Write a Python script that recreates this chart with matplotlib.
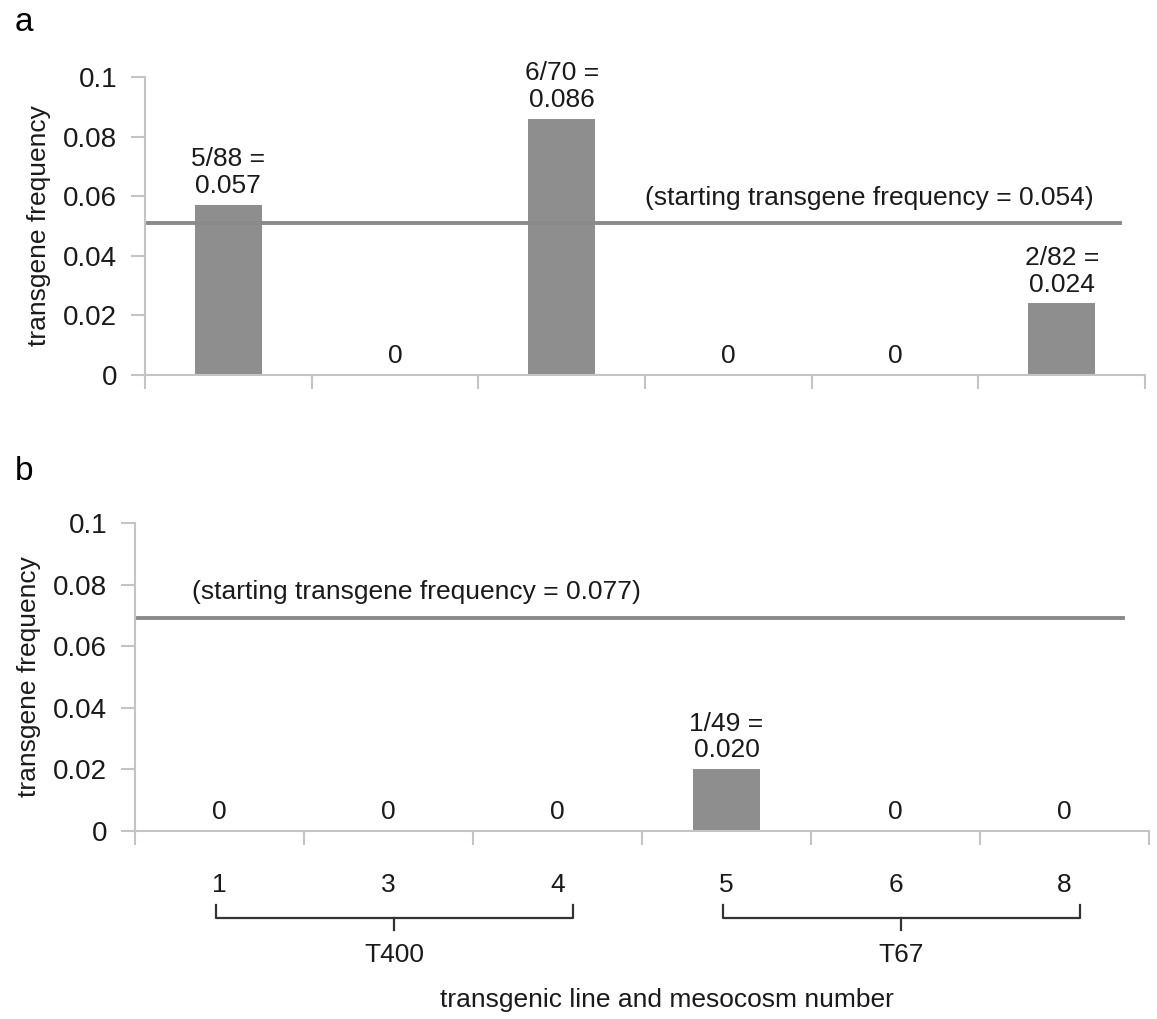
import matplotlib
matplotlib.use("Agg")
import matplotlib.pyplot as plt
import matplotlib.transforms as mtransforms

plt.rcParams['font.family'] = ['Liberation Sans', 'DejaVu Sans']

# --- dados ---
mesocosms = ["1", "3", "4", "5", "6", "8"]
lines = ["T400", "T400", "T400", "T67", "T67", "T67"]

freq_a = [0.057, 0, 0.086, 0, 0, 0.024]
labels_a = ["5/88 =\n0.057", "0", "6/70 =\n0.086", "0", "0", "2/82 =\n0.024"]
start_a = 0.051
start_text_a = "(starting transgene frequency = 0.054)"

freq_b = [0, 0, 0, 0.020, 0, 0]
labels_b = ["0", "0", "0", "1/49 =\n0.020", "0", "0"]
start_b = 0.069
start_text_b = "(starting transgene frequency = 0.077)"

yticks = [0, 0.02, 0.04, 0.06, 0.08, 0.1]
ytick_labels = ["0", "0.02", "0.04", "0.06", "0.08", "0.1"]

BAR = '#8e8e8e'
AXC = '#c4c4c4'
TXT = '#1a1a1a'
FS = 19

fig = plt.figure(figsize=(11.57, 10.19), dpi=100)


def painel(ax, freq, labels, start, start_text, text_x, text_y, line_end):
    x = list(range(len(freq)))
    ax.bar(x, freq, width=0.4, color=BAR, zorder=2)
    ax.axhline(start, xmin=0.003, xmax=line_end, color='#8a8a8a', lw=2.8, zorder=3)
    ax.text(text_x, text_y, start_text, fontsize=FS, color=TXT, ha='left', va='center')
    for xi, v, lab in zip(x, freq, labels):
        ax.annotate(lab, (xi, v), xytext=(0, 5), textcoords='offset points',
                    ha='center', va='bottom', fontsize=FS, color=TXT, linespacing=1.15)
    ax.set_xlim(-0.5, len(freq) - 0.5)
    ax.set_ylim(0, 0.1)
    ax.set_yticks(yticks)
    ax.set_yticklabels(ytick_labels, fontsize=FS + 1, color=TXT)
    ax.set_ylabel("transgene frequency", fontsize=FS, color=TXT, labelpad=9)
    ax.set_xticks([i - 0.5 for i in range(len(freq) + 1)], minor=True)
    ax.tick_params(axis='x', which='minor', length=10, width=1.5, color=AXC)
    ax.tick_params(axis='y', length=10, width=1.5, color=AXC, pad=10)
    for s in ['top', 'right']:
        ax.spines[s].set_visible(False)
    for s in ['left', 'bottom']:
        ax.spines[s].set_color(AXC)
        ax.spines[s].set_linewidth(1.5)


# --- Painel a ---
ax1 = fig.add_axes([0.1253, 0.632, 0.8643, 0.2924])
painel(ax1, freq_a, labels_a, start_a, start_text_a, 2.5, 0.0595, 0.975)
ax1.set_xticks([])

# --- Painel b ---
ax2 = fig.add_axes([0.1167, 0.1845, 0.8764, 0.3023])
painel(ax2, freq_b, labels_b, start_b, start_text_b, -0.16, 0.0775, 0.974)
ax2.set_xticks(range(len(mesocosms)))
ax2.set_xticklabels(mesocosms, fontsize=FS, color=TXT)
ax2.tick_params(axis='x', which='major', length=0, pad=30)

# chaves agrupando as linhas transgênicas
trans = mtransforms.blended_transform_factory(ax2.transData, ax2.transAxes)
grupos = []
for i, g in enumerate(lines):
    if not grupos or grupos[-1][0] != g:
        grupos.append([g, i, i])
    else:
        grupos[-1][2] = i
for g, i0, i1 in grupos:
    x0, x1 = i0 - 0.02, i1 + 0.09
    xm = (x0 + x1) / 2
    ax2.plot([x0, x0, x1, x1], [-0.24, -0.282, -0.282, -0.24], color='#333333',
             lw=1.6, transform=trans, clip_on=False, solid_joinstyle='round')
    ax2.plot([xm, xm], [-0.282, -0.32], color='#333333', lw=1.6,
             transform=trans, clip_on=False)
    ax2.text(xm, -0.403, g, transform=trans, ha='center', va='center',
             fontsize=FS, color=TXT)

ax2.text(2.65, -0.549, "transgenic line and mesocosm number", transform=trans,
         ha='center', va='center', fontsize=FS, color=TXT)

fig.text(0.013, 0.978, "a", fontsize=24, color='black', va='center')
fig.text(0.013, 0.537, "b", fontsize=24, color='black', va='center')

fig.savefig("out.png", dpi=100)
